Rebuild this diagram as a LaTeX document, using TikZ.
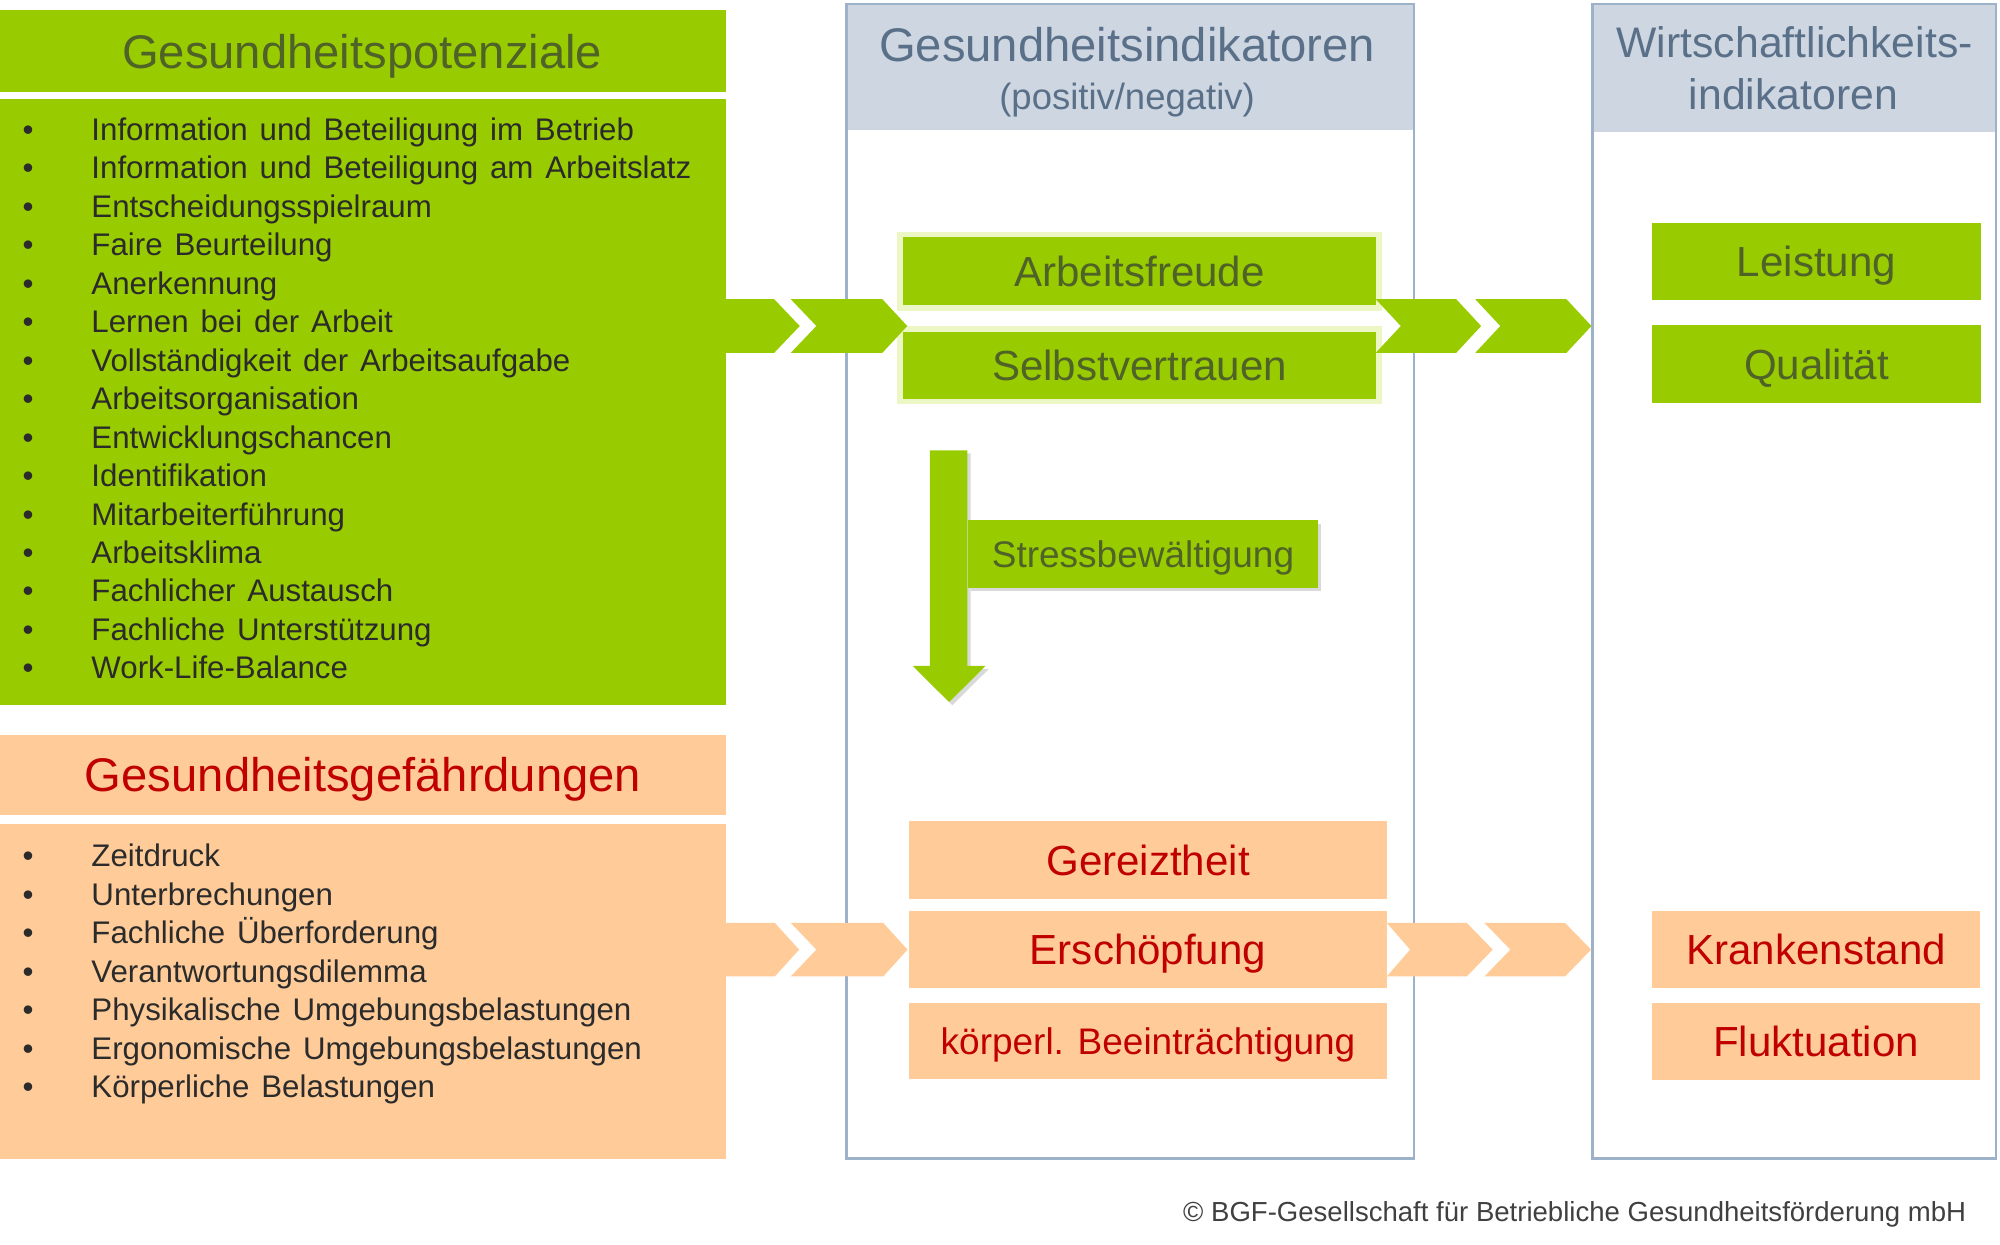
\documentclass[tikz,border=0pt]{standalone}
\usepackage{fontspec}
\setmainfont{Liberation Sans}
\usetikzlibrary{shadows}
\definecolor{grn}{HTML}{99CC00}
\definecolor{grntxt}{HTML}{4F6228}
\definecolor{org}{HTML}{FFCC99}
\definecolor{redtxt}{HTML}{C00000}
\definecolor{hdrfill}{HTML}{CDD6E1}
\definecolor{colline}{HTML}{9DB1C9}
\definecolor{hdrtxt}{HTML}{5A7089}
\definecolor{listtxt}{HTML}{2B2B2B}
\definecolor{glowc}{HTML}{EDF7C6}
\definecolor{copytxt}{HTML}{404040}
\newcommand\myfs[1]{\fontsize{#1}{#1}\selectfont}
\newcommand\wsp{\spaceskip=0.38em\relax}
\begin{document}
\begin{tikzpicture}[x=1pt,y=-1pt,
  box/.style={inner sep=0pt, outer sep=0pt, anchor=north west},
  gbox/.style={box, fill=grn},
  obox/.style={box, fill=org},
  colbox/.style={box, draw=colline, line width=2pt},
  hdrbox/.style={box, fill=hdrfill},
  bigtitle/.style={anchor=base, font=\myfs{37}, inner sep=0pt},
  coltitle/.style={anchor=base, text=hdrtxt, inner sep=0pt},
  ind/.style={anchor=center, inner sep=0pt, outer sep=0pt, font=\myfs{33}, text height=23.6pt, text depth=0pt},
  indsmall/.style={anchor=center, inner sep=0pt, outer sep=0pt, font=\myfs{29}, text height=20.8pt, text depth=0pt},
  gind/.style={fill=grn, text=grntxt},
  oind/.style={fill=org, text=redtxt},
  glowing/.style={preaction={draw=glowc, line width=9pt}},
  bul/.style={anchor=base, font=\myfs{24.5}, text=listtxt, inner sep=0pt},
  item/.style={anchor=base west, font=\myfs{24.5}, text=listtxt, inner sep=0pt},
  shad/.style={drop shadow={opacity=0.3, shadow xshift=2.5pt, shadow yshift=-2.5pt}}
]
\useasboundingbox (0,0) rectangle (1568,976);

% ---------- columns ----------
\node[hdrbox, minimum width=445.2pt, minimum height=99pt] (hdr1) at (663.5,3) {};
\node[colbox, minimum width=445.2pt, minimum height=905.4pt] (col1) at (663.5,3) {};
\node[hdrbox, minimum width=316.3pt, minimum height=100.5pt] (hdr2) at (1248.4,3) {};
\node[colbox, minimum width=316.3pt, minimum height=905.4pt] (col2) at (1248.4,3) {};

\node[coltitle, font=\myfs{37}] (t1a) at (883.6,48) {Gesundheitsindikatoren};
\node[coltitle, font=\myfs{28.6}] (t1b) at (883.6,85.5) {(positiv/negativ)};
\node[coltitle, font=\myfs{33.5}] (t2a) at (1407,45) {Wirtschaftlichkeits-};
\node[coltitle, font=\myfs{33.5}] (t2b) at (1406,85.5) {indikatoren};

% ---------- left green ----------
\node[gbox, minimum width=569pt, minimum height=64.1pt] (gphead) at (0,7.8) {};
\node[bigtitle, text=grntxt] (gptitle) at (284,53.4) {Gesundheitspotenziale};
\node[gbox, minimum width=569pt, minimum height=474.7pt] (gplist) at (0,78) {};
\foreach \t [count=\i] in {Information und Beteiligung im Betrieb,
  Information und Beteiligung am Arbeitslatz, Entscheidungsspielraum,
  Faire Beurteilung, Anerkennung, Lernen bei der Arbeit,
  Vollständigkeit der Arbeitsaufgabe, Arbeitsorganisation,
  Entwicklungschancen, Identifikation, Mitarbeiterführung, Arbeitsklima,
  Fachlicher Austausch, Fachliche Unterstützung, Work-Life-Balance}{
  \pgfmathsetmacro\yy{109.8+30.18*(\i-1)}
  \node[bul] (gb\i) at (22,\yy) {•};
  \node[item] (gi\i) at (71.5,\yy) {\wsp\t};
}

% ---------- left orange ----------
\node[obox, minimum width=569pt, minimum height=63.2pt] (gfhead) at (0,575.9) {};
\node[bigtitle, text=redtxt] (gftitle) at (284.7,620.4) {Gesundheitsgefährdungen};
\node[obox, minimum width=569pt, minimum height=262.2pt] (gflist) at (0,646.2) {};
\foreach \t [count=\i] in {Zeitdruck, Unterbrechungen, Fachliche Überforderung,
  Verantwortungsdilemma, Physikalische Umgebungsbelastungen,
  Ergonomische Umgebungsbelastungen, Körperliche Belastungen}{
  \pgfmathsetmacro\yy{679.4+30.2*(\i-1)}
  \node[bul] (ob\i) at (22,\yy) {•};
  \node[item] (oi\i) at (71.5,\yy) {\wsp\t};
}

% ---------- chevrons (green) ----------
\fill[grn] (569,234.6) -- (607,234.6) -- (627,255.6) -- (607,276.6) -- (569,276.6) -- cycle;
% indicator boxes (green)
\node[ind, gind, glowing, minimum width=370.5pt, minimum height=53.1pt] (af) at (893.35,212.55) {Arbeitsfreude};
\node[ind, gind, glowing, minimum width=370.5pt, minimum height=52.5pt] (sv) at (893.35,286.35) {Selbstvertrauen};
\fill[grn] (620,234.6) -- (691.8,234.6) -- (711.3,255.6) -- (691.8,276.6) -- (620,276.6) -- (640,255.6) -- cycle;
\fill[grn] (1078.6,234.6) -- (1141.7,234.6) -- (1161.2,255.6) -- (1141.7,276.6) -- (1078.6,276.6) -- (1098.2,255.6) -- cycle;
\fill[grn] (1156.6,234.6) -- (1228.1,234.6) -- (1247.7,255.6) -- (1228.1,276.6) -- (1156.6,276.6) -- (1176.2,255.6) -- cycle;

\node[ind, gind, minimum width=258.1pt, minimum height=60.9pt] (le) at (1424.15,205.05) {Leistung};
\node[ind, gind, minimum width=258.1pt, minimum height=61pt] (qu) at (1424.15,285.5) {Qualität};

% down arrow and Stressbewältigung
\fill[grn, shad] (729,353) -- (758.5,353) -- (758.5,522) -- (772.7,522) -- (744.1,550.4) -- (715.5,522) -- (729,522) -- cycle;
\node[indsmall, gind, shad, minimum width=274pt, minimum height=52.6pt] (sb) at (896.1,434.3) {Stressbewältigung};

% ---------- orange indicators ----------
\node[ind, oind, minimum width=374.5pt, minimum height=61.3pt] (ge) at (900.05,674.25) {Gereiztheit};
\node[ind, oind, minimum width=374.5pt, minimum height=60.6pt] (er) at (900.05,744.2) {Erschöpfung};
\node[indsmall, oind, minimum width=374.5pt, minimum height=59.6pt] (kb) at (900.05,816.3) {körperl. Beeinträchtigung};
\node[ind, oind, minimum width=257.4pt, minimum height=60.6pt] (ks) at (1423.9,744.2) {Krankenstand};
\node[ind, oind, minimum width=257.4pt, minimum height=60.3pt] (fl) at (1423.9,816.65) {Fluktuation};

% chevrons (orange)
\fill[org] (569,723.6) -- (607.5,723.6) -- (626.5,744.5) -- (607.5,765.5) -- (569,765.5) -- cycle;
\fill[org] (620,723.6) -- (692.5,723.6) -- (711.5,744.5) -- (692.5,765.5) -- (620,765.5) -- (640,744.5) -- cycle;
\fill[org] (1087.3,723.6) -- (1150,723.6) -- (1170.3,744.5) -- (1150,765.5) -- (1087.3,765.5) -- (1105.5,744.5) -- cycle;
\fill[org] (1163.8,723.6) -- (1227,723.6) -- (1247.4,744.5) -- (1227,765.5) -- (1163.8,765.5) -- (1184.1,744.5) -- cycle;

% ---------- copyright ----------
\node[anchor=base east, font=\myfs{21.6}, text=copytxt, inner sep=0pt] (copy) at (1541.6,957.4) {© BGF-Gesellschaft für Betriebliche Gesundheitsförderung mbH};
\end{tikzpicture}
\end{document}
